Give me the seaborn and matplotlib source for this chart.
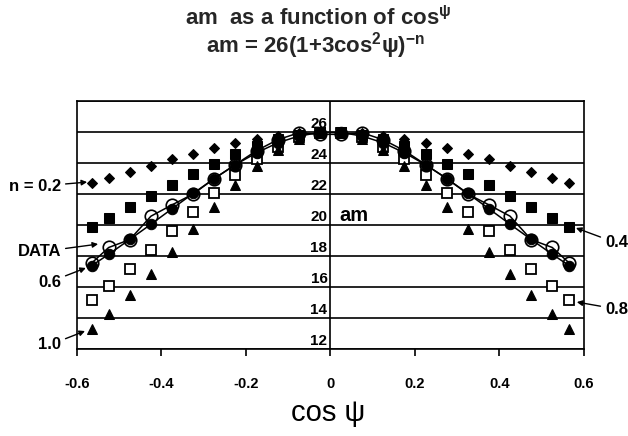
import matplotlib
matplotlib.use("Agg")
import matplotlib.pyplot as plt
import seaborn as sns
from matplotlib.transforms import offset_copy

# ---------------- data ----------------
cos_psi = [-0.565, -0.525, -0.475, -0.425, -0.375, -0.325, -0.275, -0.225, -0.175, -0.125, -0.075, -0.025,
           0.025, 0.075, 0.125, 0.175, 0.225, 0.275, 0.325, 0.375, 0.425, 0.475, 0.525, 0.565]

am_n02 = [22.73, 23.05, 23.45, 23.84, 24.23, 24.61, 24.96, 25.28, 25.55, 25.76, 25.91, 25.99,
          25.99, 25.91, 25.76, 25.55, 25.28, 24.96, 24.61, 24.23, 23.84, 23.45, 23.05, 22.73]
am_n04 = [19.87, 20.43, 21.14, 21.87, 22.59, 23.29, 23.96, 24.57, 25.10, 25.53, 25.83, 25.98,
          25.98, 25.83, 25.53, 25.10, 24.57, 23.96, 23.29, 22.59, 21.87, 21.14, 20.43, 19.87]
am_n06 = [17.38, 18.11, 19.07, 20.05, 21.05, 22.04, 23.00, 23.89, 24.66, 25.30, 25.74, 25.97,
          25.97, 25.74, 25.30, 24.66, 23.89, 23.00, 22.04, 21.05, 20.05, 19.07, 18.11, 17.38]
am_n08 = [15.19, 16.05, 17.19, 18.39, 19.62, 20.86, 22.08, 23.22, 24.24, 25.06, 25.65, 25.96,
          25.96, 25.65, 25.06, 24.24, 23.22, 22.08, 20.86, 19.62, 18.39, 17.19, 16.05, 15.19]
am_n10 = [13.28, 14.23, 15.51, 16.86, 18.29, 19.74, 21.19, 22.57, 23.81, 24.84, 25.57, 25.95,
          25.95, 25.57, 24.84, 23.81, 22.57, 21.19, 19.74, 18.29, 16.86, 15.51, 14.23, 13.28]
am_data = [17.55, 18.55, 19.06, 20.57, 21.30, 22.00, 23.00, 23.90, 24.80, 25.50, 25.95, 25.85,
           25.85, 25.95, 25.50, 24.80, 23.90, 23.00, 22.00, 21.30, 20.57, 19.06, 18.55, 17.55]

x_ticks = [-0.6, -0.4, -0.2, 0.0, 0.2, 0.4, 0.6]
x_tick_labels = ["-0.6", "-0.4", "-0.2", "0", "0.2", "0.4", "0.6"]
y_grid = [12, 14, 16, 18, 20, 22, 24, 26, 28]
y_tick_labels = ["12", "14", "16", "18", "20", "22", "24", "26"]

title1 = r"am  as a function of cos$^{ψ}$"
title2 = r"am = 26(1+3cos$^{2}$ψ)$^{-n}$"
x_title = "cos ψ"
y_title = "am"

# ---------------- style ----------------
sns.set_theme(style="white")
plt.rcParams["font.family"] = ["Liberation Sans", "DejaVu Sans"]
plt.rcParams["mathtext.fontset"] = "custom"
plt.rcParams["mathtext.rm"] = "Liberation Sans:bold"
plt.rcParams["mathtext.it"] = "Liberation Sans:bold"
plt.rcParams["mathtext.bf"] = "Liberation Sans:bold"
plt.rcParams["mathtext.default"] = "rm"

fig = plt.figure(figsize=(6.28, 4.36), dpi=100)
fig.patch.set_facecolor("white")
ax = fig.add_axes([0.1226, 0.1995, 0.8073, 0.5688])
ax.set_facecolor("white")

common = dict(ax=ax, sort=False, estimator=None, color="black")
sns.lineplot(x=cos_psi, y=am_n02, linestyle="none", marker="D", markersize=5,
             markerfacecolor="black", markeredgecolor="black", zorder=3, **common)
sns.lineplot(x=cos_psi, y=am_n04, linestyle="none", marker="s", markersize=6.5,
             markerfacecolor="black", markeredgecolor="black", zorder=3, **common)
sns.lineplot(x=cos_psi, y=am_n08, linestyle="none", marker="s", markersize=6.5,
             markerfacecolor="white", markeredgecolor="black", markeredgewidth=1.3, zorder=3, **common)
sns.lineplot(x=cos_psi, y=am_n10, linestyle="none", marker="^", markersize=7,
             markerfacecolor="black", markeredgecolor="black", zorder=3, **common)
sns.lineplot(x=cos_psi, y=am_n06, linestyle="-", linewidth=1.1, marker="o", markersize=7.5,
             markerfacecolor="black", markeredgecolor="black", zorder=4, **common)
sns.lineplot(x=cos_psi, y=am_data, linestyle="-", linewidth=1.1, marker="o", markersize=9,
             markerfacecolor="none", markeredgecolor="black", markeredgewidth=1.2, zorder=5, **common)

ax.set_xlim(-0.6, 0.6)
ax.set_ylim(12, 28)
ax.set_xlabel("")
ax.set_ylabel("")

ax.set_yticks(y_grid)
ax.set_yticklabels([])
ax.tick_params(axis="y", length=0, left=False)
ax.grid(axis="y", color="black", linewidth=1.2)
ax.grid(axis="x", visible=False)
ax.set_axisbelow(True)
for s in ax.spines.values():
    s.set_visible(True)
    s.set_color("black")
    s.set_linewidth(1.2)
ax.axvline(0, color="black", linewidth=1.2, zorder=2)

ax.set_xticks(x_ticks)
ax.set_xticklabels(x_tick_labels, fontsize=10.5, fontweight="bold")
ax.tick_params(axis="x", bottom=True, direction="out", length=5, width=1.2,
               color="black", pad=15, labelcolor="black")

# y labels sit left of the central axis, just above each grid line
lab_tr = offset_copy(ax.transData, fig=fig, x=-3, y=1, units="dots")
for v, lab in zip(y_grid, y_tick_labels):
    ax.text(0, v, lab, transform=lab_tr, ha="right", va="bottom",
            fontsize=11, fontweight="bold", color="black")
am_tr = offset_copy(ax.transData, fig=fig, x=9, y=4, units="dots")
ax.text(0, 20, y_title, transform=am_tr, ha="left", va="baseline",
        fontsize=14.5, fontweight="bold", color="black")

# annotations
arrow = dict(arrowstyle="-|>", color="black", lw=1.0, shrinkA=1, shrinkB=0, mutation_scale=8)
notes = [
    ("n = 0.2", (-0.576, 22.77), (-0.638, 22.48), "right"),
    ("DATA", (-0.550, 18.77), (-0.638, 18.26), "right"),
    ("0.6", (-0.579, 17.23), (-0.638, 16.32), "right"),
    ("1.0", (-0.581, 13.16), (-0.638, 12.26), "right"),
    ("0.4", (0.581, 19.81), (0.650, 18.84), "left"),
    ("0.8", (0.583, 15.03), (0.650, 14.58), "left"),
]
for txt, xy, xyt, ha in notes:
    ax.annotate(txt, xy=xy, xytext=xyt, textcoords="data", ha=ha, va="center",
                fontsize=12, fontweight="bold", color="black",
                arrowprops=arrow, annotation_clip=False)

fig.text(0.506, 1 - 17 / 436, title1, ha="center", va="center", fontsize=16, fontweight="bold")
fig.text(0.503, 1 - 46 / 436, title2, ha="center", va="center", fontsize=16, fontweight="bold")
fig.text(0.522, 1 - 413 / 436, x_title, ha="center", va="center", fontsize=21, color="black")

fig.savefig("out.png", dpi=100, facecolor="white")
